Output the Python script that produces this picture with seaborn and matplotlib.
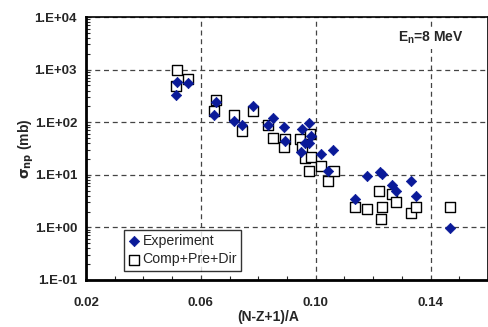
import numpy as np
import pandas as pd
import matplotlib
matplotlib.use("Agg")
import matplotlib.pyplot as plt
import seaborn as sns
from matplotlib.ticker import FuncFormatter, LogLocator, MultipleLocator, FixedLocator

# Experiment (diamonds)
exp_x = [0.0512, 0.0517, 0.0555, 0.0644, 0.0651, 0.0714, 0.0742, 0.0781, 0.0833, 0.0850,
         0.0889, 0.0977, 0.0952, 0.0984, 0.0893, 0.0963, 0.0976, 0.0947, 0.1017, 0.1061,
         0.1041, 0.1136, 0.1177, 0.1223, 0.1231, 0.1264, 0.1280, 0.1333, 0.1349, 0.1469]
exp_y = [333, 589, 556, 137, 239, 105, 88, 206, 90, 119,
         80, 98, 74, 55, 43, 40, 41, 27.5, 24.5, 29.6,
         11.8, 3.47, 9.5, 11.2, 10.4, 6.5, 4.9, 7.7, 3.96, 0.98]

# Comp+Pre+Dir (open squares)
calc_x = [0.0516, 0.0512, 0.0555, 0.0651, 0.0644, 0.0714, 0.0742, 0.0781, 0.0833, 0.0852,
          0.0893, 0.0889, 0.0946, 0.0980, 0.0953, 0.0961, 0.0983, 0.0976, 0.1017, 0.1042,
          0.1062, 0.1136, 0.1177, 0.1231, 0.1226, 0.1222, 0.1264, 0.1279, 0.1333, 0.1349,
          0.1469]
calc_y = [970, 494, 653, 260, 161, 137, 69, 161, 90, 51,
          47, 34, 48, 59, 33, 20.6, 21.8, 12, 14.7, 7.7,
          11.6, 2.44, 2.24, 2.41, 1.46, 5.0, 4.26, 3.08, 1.9, 2.41,
          2.48]

x_ticks = [0.02, 0.06, 0.10, 0.14]

df_exp = pd.DataFrame({"x": exp_x, "y": exp_y})
df_calc = pd.DataFrame({"x": calc_x, "y": calc_y})

sns.set_style("white")
plt.rcParams["font.family"] = ["Liberation Sans", "DejaVu Sans"]

fig = plt.figure(figsize=(4.89, 3.27), dpi=100)
ax = fig.add_axes([0.176, 0.144, 0.822, 0.804])

sns.scatterplot(data=df_calc, x="x", y="y", ax=ax, marker="s", s=45,
                facecolor="white", edgecolor="black", linewidth=1.0,
                label="Comp+Pre+Dir", zorder=3)
sns.scatterplot(data=df_exp, x="x", y="y", ax=ax, marker="D", s=28,
                color="#0a1a99", edgecolor="#0a1a99", linewidth=0.5,
                label="Experiment", zorder=4)

ax.set_yscale("log")
ax.set_xlim(0.02, 0.16)
ax.set_ylim(0.1, 1e4)
ax.xaxis.set_major_locator(FixedLocator(x_ticks))
ax.xaxis.set_minor_locator(MultipleLocator(0.01))
ax.yaxis.set_major_locator(LogLocator(base=10, numticks=10))
ax.yaxis.set_minor_locator(LogLocator(base=10, subs=np.arange(2, 10), numticks=20))
ax.xaxis.set_major_formatter(FuncFormatter(lambda v, p: f"{v:.2f}"))
ax.yaxis.set_major_formatter(FuncFormatter(lambda v, p: f"1.E{int(round(np.log10(v))):+03d}"))

ax.grid(True, which="major", linestyle=(0, (4, 3)), color="#444444", linewidth=0.9)
ax.tick_params(which="major", direction="inout", length=6, width=1.2, labelsize=9.5)
ax.tick_params(which="minor", direction="in", length=3, width=0.8)
ax.tick_params(axis="y", which="minor", left=True)
ax.tick_params(axis="x", which="minor", bottom=True)
for lab in ax.get_xticklabels() + ax.get_yticklabels():
    lab.set_fontweight("bold")
ax.tick_params(axis="x", pad=9)

for side in ["top", "right"]:
    ax.spines[side].set_linewidth(1.2)
    ax.spines[side].set_color("black")
for side in ["left", "bottom"]:
    ax.spines[side].set_linewidth(2.0)
    ax.spines[side].set_color("black")

ax.set_xlabel("(N-Z+1)/A", fontsize=10, fontweight="bold")
ax.set_ylabel(r"$\mathbf{\sigma_{np}}$ (mb)", fontsize=10, fontweight="bold")
ax.xaxis.set_label_coords(0.453, -0.115)
ax.yaxis.set_label_coords(-0.125, 0.5)

ax.text(0.94, 0.92, r"E$_\mathregular{n}$=8 MeV", transform=ax.transAxes,
        ha="right", va="center", fontsize=10, fontweight="bold", zorder=5,
        bbox=dict(facecolor="white", edgecolor="none", pad=2))

handles, labels = ax.get_legend_handles_labels()
leg = ax.legend(handles[::-1], labels[::-1], loc="lower left",
                bbox_to_anchor=(0.095, 0.035), fontsize=10.2, frameon=True,
                fancybox=False, edgecolor="black", handletextpad=0.2,
                handlelength=0.8, borderpad=0.3, labelspacing=0.3,
                borderaxespad=0)
leg.get_frame().set_linewidth(1.0)

fig.savefig("out.png", dpi=100)
